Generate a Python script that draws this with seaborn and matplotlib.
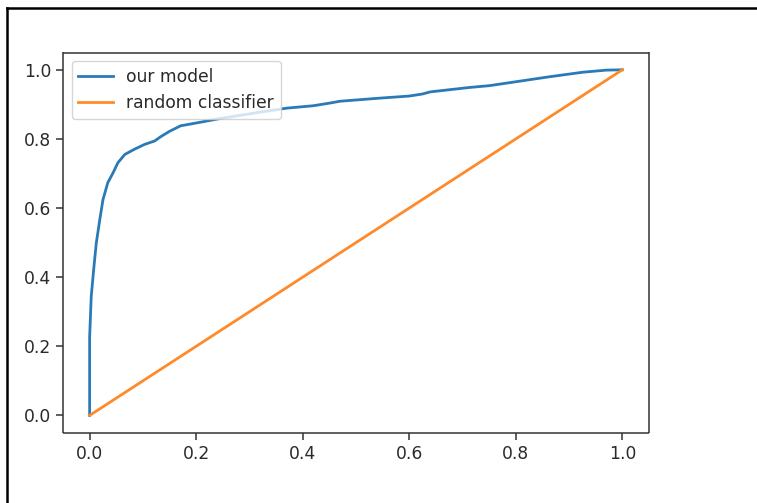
import matplotlib
matplotlib.use("Agg")
import matplotlib.pyplot as plt
import seaborn as sns
import pandas as pd
from matplotlib.lines import Line2D

# ROC curve of "our model" (false positive rate, true positive rate)
fpr = [0.0, 0.0, 0.003, 0.0075, 0.0125, 0.019, 0.025, 0.034, 0.044, 0.053,
       0.066, 0.084, 0.103, 0.122, 0.133, 0.150, 0.171, 0.200, 0.245, 0.302,
       0.370, 0.420, 0.452, 0.470, 0.545, 0.600, 0.625, 0.639, 0.714, 0.750,
       0.794, 0.864, 0.926, 0.970, 1.0]
tpr = [0.0, 0.227, 0.344, 0.421, 0.499, 0.566, 0.624, 0.673, 0.702, 0.731,
       0.755, 0.770, 0.784, 0.794, 0.806, 0.822, 0.838, 0.846, 0.859, 0.873,
       0.889, 0.896, 0.904, 0.909, 0.918, 0.924, 0.930, 0.936, 0.949, 0.954,
       0.964, 0.980, 0.993, 0.999, 1.0]
rand_x = [0.0, 1.0]
rand_y = [0.0, 1.0]
labels = ["our model", "random classifier"]

plt.rcParams['font.family'] = ['DejaVu Sans']
fig = plt.figure(figsize=(7.57, 5.03), dpi=100)
ax = fig.add_axes([63 / 757, 1 - 432.7 / 503, (649 - 63) / 757, (432.7 - 52.5) / 503])

df_model = pd.DataFrame({"fpr": fpr, "tpr": tpr})
df_rand = pd.DataFrame({"fpr": rand_x, "tpr": rand_y})
sns.lineplot(data=df_model, x="fpr", y="tpr", sort=False, estimator=None,
             color="#2a7ab8", linewidth=2.0, label=labels[0], ax=ax)
sns.lineplot(data=df_rand, x="fpr", y="tpr", sort=False, estimator=None,
             color="#ff8a2a", linewidth=2.0, label=labels[1], ax=ax)

ax.set_xlabel("")
ax.set_ylabel("")
ax.set_xlim(-0.05, 1.05)
ax.set_ylim(-0.05, 1.05)
ax.set_xticks([0.0, 0.2, 0.4, 0.6, 0.8, 1.0])
ax.set_yticks([0.0, 0.2, 0.4, 0.6, 0.8, 1.0])
ax.tick_params(labelsize=12.3, length=5, width=1.1, colors="#333333", labelcolor="#2a2a2a")
for s in ax.spines.values():
    s.set_linewidth(1.1)
    s.set_color("#333333")
    s.set_capstyle("butt")

leg = ax.legend(loc="upper left", fontsize=12.3, frameon=True, framealpha=0.8,
                edgecolor="#cccccc", handlelength=2.0, borderaxespad=0.5)
for t in leg.get_texts():
    t.set_color("#2a2a2a")

# screenshot frame (top and left edges)
fig.add_artist(Line2D([7 / 757, 1.0], [1 - 8 / 503, 1 - 8 / 503], color="black",
                      linewidth=1.8, transform=fig.transFigure))
fig.add_artist(Line2D([7 / 757, 7 / 757], [0.0, 1 - 8 / 503], color="black",
                      linewidth=1.8, transform=fig.transFigure))

fig.savefig("out.png", dpi=100)
